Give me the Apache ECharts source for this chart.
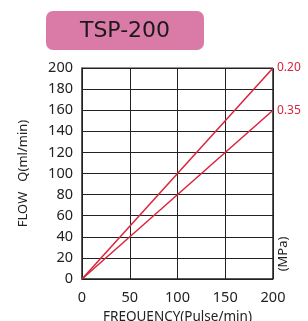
<!DOCTYPE html>
<html>
<head>
<meta charset="utf-8">
<script src="https://cdn.jsdelivr.net/npm/echarts@6/dist/echarts.min.js"></script>
<style>
  html, body { margin: 0; padding: 0; background: #fff; }
  #chart { width: 308px; height: 321px; }
</style>
</head>
<body>
<div id="chart"></div>
<script>
// frequency (pulse/min)
const freq = [0, 200];
// flow (ml/min) at each pressure
const flow020 = [0, 200];
const flow035 = [0, 160];
const pressures = ['0.20', '0.35'];

const chart = echarts.init(document.getElementById('chart'));
const red = '#d8253c';
const font = 'Noto Sans';

const lineSeries = (name, ys) => ({
  name: name,
  type: 'line',
  data: freq.map((x, i) => [x, ys[i]]),
  symbol: 'none',
  lineStyle: { color: red, width: 1.5 },
  endLabel: {
    show: true,
    formatter: '{a}',
    color: red,
    fontFamily: font,
    fontSize: 12,
    distance: 4
  },
  silent: true
});

chart.setOption({
  animation: false,
  grid: { left: 82, right: 35, top: 68, bottom: 42, outerBoundsMode: 'none', containLabel: false },
  xAxis: {
    type: 'value',
    min: 0, max: 200, interval: 50,
    name: 'FREQUENCY(Pulse/min)',
    nameLocation: 'middle',
    nameGap: 31,
    nameTextStyle: { color: '#222', fontFamily: font, fontSize: 13.5 },
    axisLine: { show: true, lineStyle: { color: '#222', width: 1.5 } },
    axisTick: { show: false },
    axisLabel: { color: '#222', fontFamily: font, fontSize: 14.5, margin: 11 },
    splitLine: { show: true, lineStyle: { color: '#222', width: 1 } }
  },
  yAxis: {
    type: 'value',
    min: 0, max: 200, interval: 20,
    name: 'FLOW   Q(ml/min)',
    nameLocation: 'middle',
    nameRotate: 90,
    nameGap: 52,
    nameTextStyle: { color: '#222', fontFamily: font, fontSize: 13 },
    axisLine: { show: true, lineStyle: { color: '#222', width: 1.5 } },
    axisTick: { show: false },
    axisLabel: { color: '#222', fontFamily: font, fontSize: 14.5, margin: 9 },
    splitLine: { show: true, lineStyle: { color: '#222', width: 1 } }
  },
  graphic: [
    {
      type: 'rect',
      shape: { x: 46, y: 11, width: 158, height: 39, r: 7 },
      style: { fill: '#d97aa7' }
    },
    {
      type: 'text',
      x: 125, y: 31,
      style: {
        text: 'TSP-200',
        fill: '#1a1a1a',
        font: '22px "DejaVu Sans"',
        align: 'center',
        verticalAlign: 'middle'
      }
    },
    {
      type: 'text',
      x: 283, y: 254,
      rotation: Math.PI / 2,
      style: {
        text: '(MPa)',
        fill: '#222',
        font: '13px "Noto Sans"',
        align: 'center',
        verticalAlign: 'middle'
      }
    },
    {
      type: 'line',
      shape: { x1: 273, y1: 68, x2: 273, y2: 279 },
      style: { stroke: '#222', lineWidth: 1.5 }
    },
    {
      type: 'line',
      shape: { x1: 82, y1: 68, x2: 273, y2: 68 },
      style: { stroke: '#222', lineWidth: 1 }
    }
  ],
  series: [lineSeries(pressures[0], flow020), lineSeries(pressures[1], flow035)]
});
</script>
</body>
</html>
